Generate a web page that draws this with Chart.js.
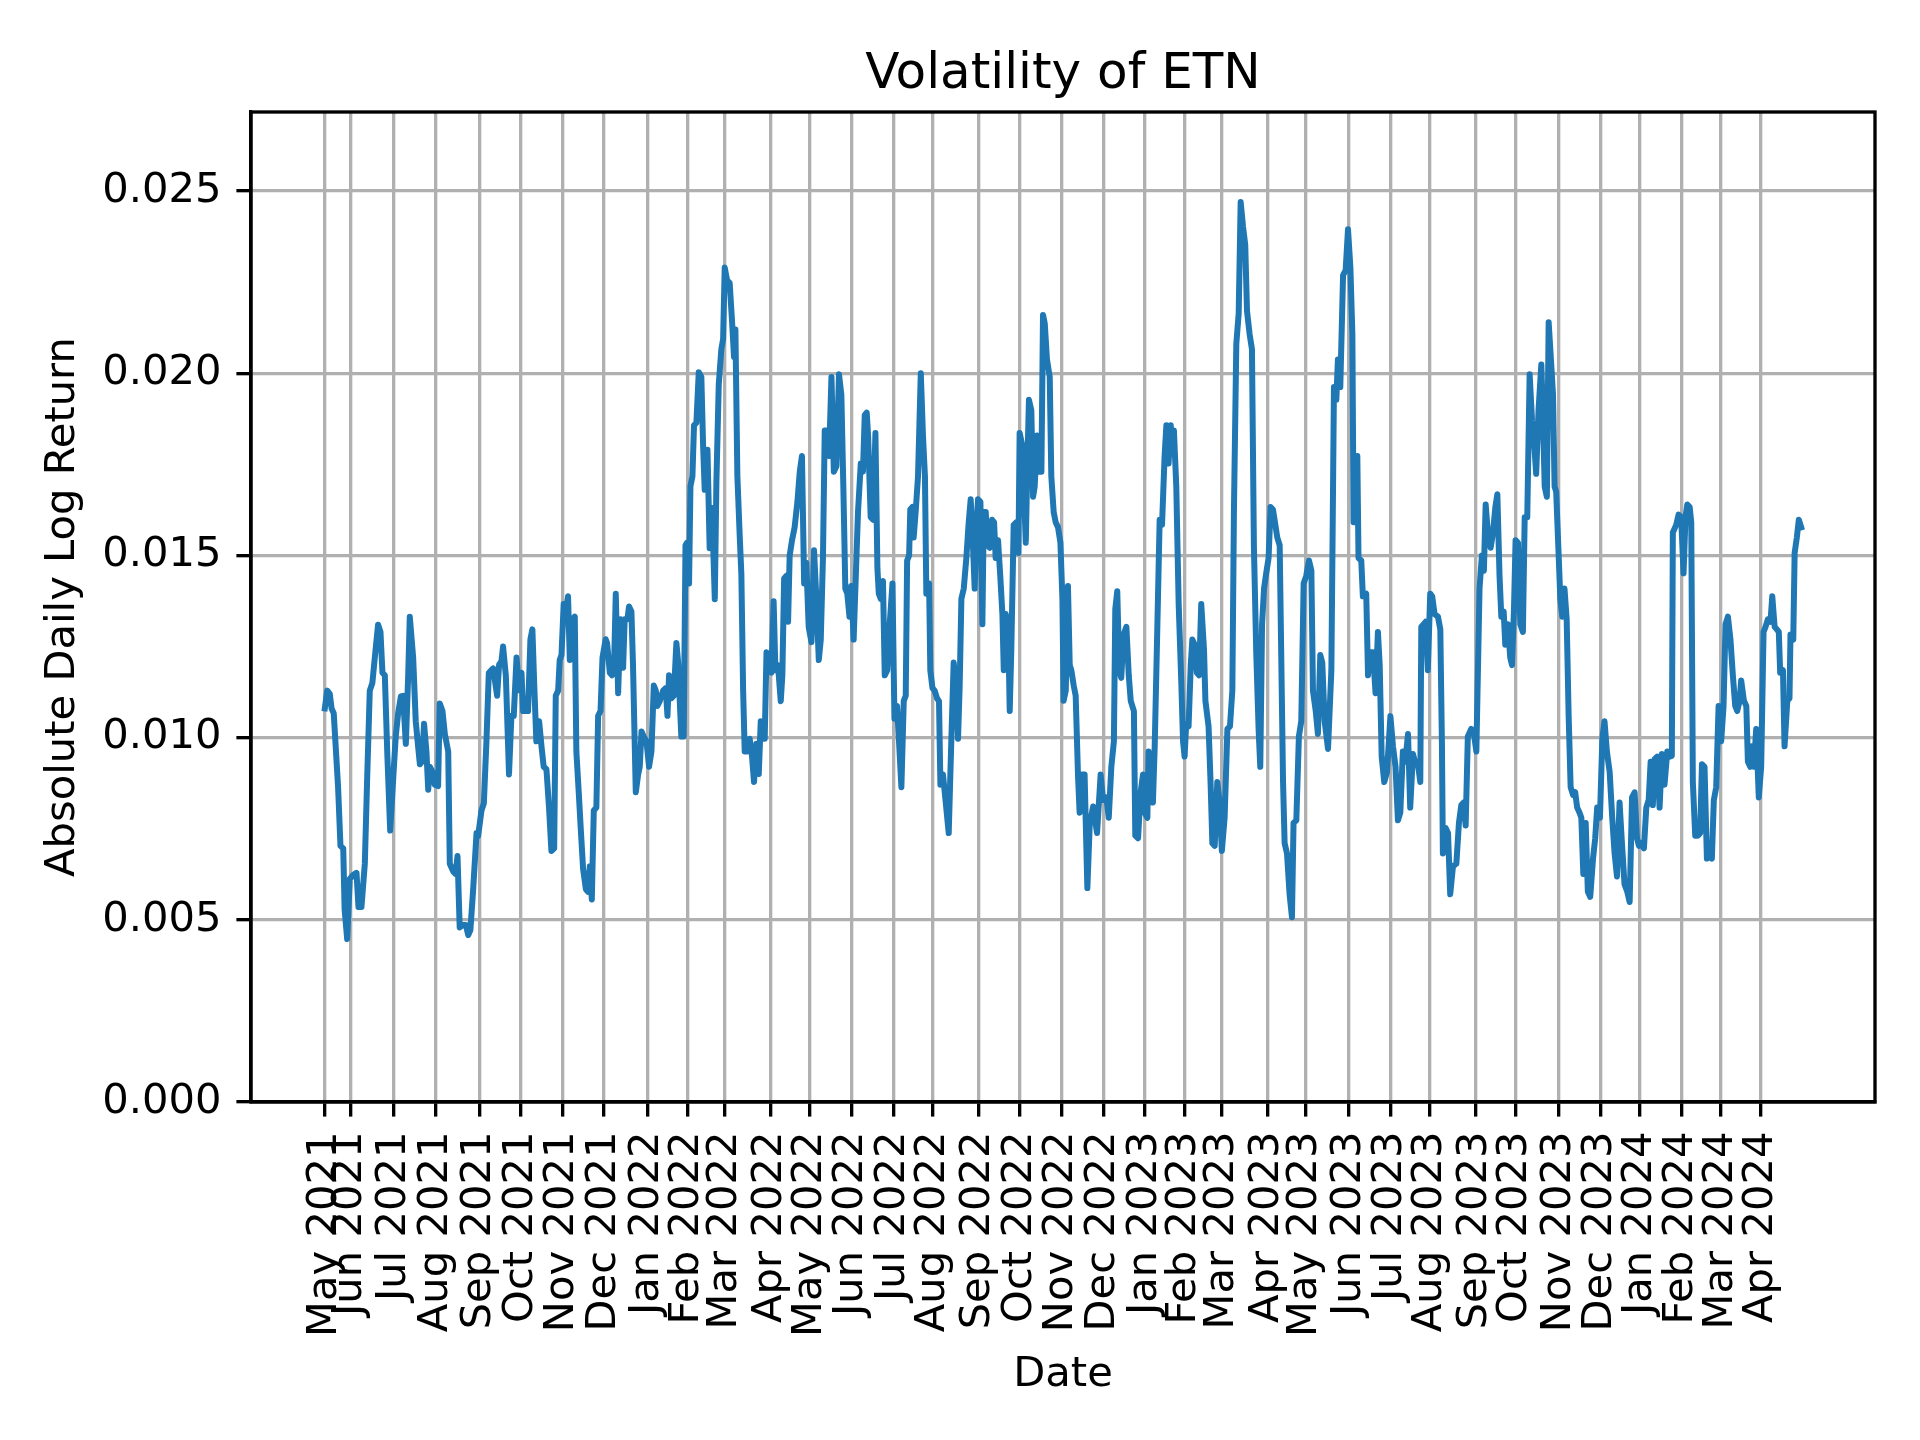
<!DOCTYPE html>
<html>
<head>
<meta charset="utf-8">
<script src="https://cdn.jsdelivr.net/npm/chart.js@4.4.1/dist/chart.umd.min.js"></script>
<style>
  html, body { margin: 0; padding: 0; background: #fff; }
  canvas { display: block; }
</style>
</head>
<body>
<canvas id="c" width="1920" height="1440"></canvas>
<script>
// Trading-day index of each reading (0 = first trading day in the data, mid-May 2021)
const dayIndex = [
0,1.2,2.5,3.4,4.5,6.7,7.9,9.3,10,11.3,12.6,14.3,16,17,18.5,20.2,21.4,22.7,24,25.6,26.9,28.1,29.1,30.3,31.6,33,34.5,35.8,37,38.4,39.5,40.9,42.1,42.9,44.6,45.9,47.1,48,49.1,50.1,51.3,52.2,53,54.4,55.5,57.2,58,59.4,60.6,62.3,63.1,64.8,66,67,68.1,69.8,71.2,72.4,73.5,74.9,76.6,77.4,79.1,80.3,81.6,82.8,84.1,85,85.8,87,88,89.2,90,
91.4,93,94.2,95.4,96.8,98.1,99.3,100.1,101.5,102.6,103.8,104.8,105.7,106.8,108.2,109.4,110.5,111.9,113.2,114.4,115.8,116.6,117.8,118.6,119.5,120.6,121.7,122.8,123.7,125,126.2,127,128.2,129.2,130.4,131.8,132.9,133.8,134.8,135.8,137.1,138,139.2,140.2,141.8,142.5,143.9,145,146.1,146.9,148.1,149.3,150.6,151.4,152.8,153.6,154.8,155.6,157,158.2,159,159.9,161,162.4,163.7,164.9,166.1,167.1,167.9,169.1,170.8,172.1,173,173.8,175,176.2,177.5,178.4,179.2,180,181.2,182.1,182.9,183.9,184.6,185.6,186.4,187.6,
188.8,190.1,191,191.8,193.2,194.3,195.5,196.9,197.7,198.9,200.2,201.1,201.9,203.1,204.4,205.6,206.6,207.3,208.3,209.5,210.3,211.2,212,213.4,214.5,215.7,216.7,217.9,219.1,220.1,221.3,222.1,223,224.1,225.5,226.6,227.5,228.8,230.2,231,231.9,233,233.9,234.7,235.9,237.2,238.6,239.8,240.9,242,243.1,244.3,245.7,247,248.2,249.4,250.4,251.5,252.4,253.6,254.6,255.8,257,258.3,259.6,260.8,261.8,262.8,263.8,264.9,265.8,267,268.4,269.2,270.6,271.7,272.6,273.6,274.3,275.6,276.8,278,279,279.7,280.7,281.8,282.7,284,285.2,286.6,
287.6,288.9,289.9,291.1,292.3,293.3,294,295,295.6,296.7,297.3,298.3,299.5,300.9,302,303,303.7,305.1,305.7,306.8,307.9,309.1,310.1,310.8,312.1,313.5,315,316.3,317.5,318.9,319.7,320.5,321.4,322.6,323.9,325.1,326.1,327.3,328.1,329,329.8,331,332,332.7,333.7,334.5,335.7,336.9,337.9,338.7,339.9,341.1,342.1,342.8,343.8,345,345.8,346.6,347.8,349.2,350.2,350.8,352.2,353,353.9,354.7,355.5,356.7,357.6,358.4,359.6,360.6,361.8,362.6,363.5,364.6,366,366.8,368,369,370.2,371.4,372.4,373,374.1,375.2,376.1,376.9,378.1,379.1,380.3,381.1,382.3,383.6,
385,386.2,387.9,389.9,391.7,392.9,394.6,395.8,397.1,398.4,399.1,400.1,401.1,402.1,403.3,404.7,405.9,406.9,408.5,409.2,410.6,411.9,413.1,413.9,415.3,415.9,417,418.1,419,420.3,421.5,422.7,424,424.9,426,427.1,427.7,428.7,429.9,431.1,432.4,433.3,434.1,434.9,436.1,437.2,438,439.2,440.3,441.4,442.5,443.9,444.6,446.2,447.2,448.1,449.3,450.6,451.8,452.9,454.3,455.7,457,458.2,459,460.2,461.4,462.4,463.6,464.7,465.6,466.9,468.1,469.1,470.3,471.5,472.3,473.2,474.2,475.3,476.5,477.5,478.7,479.9,480.9,482.1,
483.8,484.6,485.8,487.1,488.3,489.1,490.5,491.8,493,494.2,495.5,496.9,498.1,498.9,500.3,501.4,502.6,503.6,504.8,506.5,508.2,509.5,510.7,511.5,512.7,514.1,515.4,516.6,517.8,518.8,519.4,520.4,521.3,521.9,523.3,524.1,525.8,526.7,527.8,529.2,530.5,531.7,532.6,533.6,534.9,536.3,538,539.3,540.6,541.8,543,544.3,545.5,546.9,548,549.4,550.7,551.9,553.1,553.6,554.8,555.8,556.9,558.1,559.1,560.3,562,563.2,564,564.5,565.9,567.1,568.2,569.6,571.3,572.6,573.8,575,576,577.1,578.8,580,581.4,
583,584.2,585.2,586.1,587.2,588.6,589.8,591,592,593.1,594,595.2,596,597.3,598.5,599.4,600.4,601.2,602.4,603.6,604.9,605.8,607.1,608.3,609.5,610.5,611.6,612.8,614.2,615,615.9,617,617.9,619.2,620.1,620.9,621.7,622.6,623.8,624.8,625.9,627,628,629,630.2,631.3,632.3,633.5,634.4,635.4,636.6,637.7,638.9,640.3,641.4,642.4,643.8,645,646.1,647.3,648.7,650,651.2,652.4,653.7,654.9,656.2,657.6,658.8,660,661.3,662.5,663.5,664.7,666,667.2,668.4,669.4,670.5,671.4,672.7,673.9,675.1,676.4,677.8,679,680.1,
680.6,682.3,683.5,684.8,686,687,687.9,689.1,689.9,690.7,691.9,693.3,694.4,695.3,696.6,697.8,699.1,700.3,701.3,702.5,703.7,705,706.2,707.2,708.4,709.7,710.9,712.1,713.1,714.3,715.1,716.5,717.7,718.5,719.7,720.5,721.5,722.7,724,725.2,726.4,727.4,728.6,729.9,730.8,732,733.1,734.1,734.8,736.2,737,738.4,739.5,740,741.4,742.1,743.2,744.2,745.4
];

// Absolute daily log return (rolling)
const volatility = [
0.01080,0.01129,0.01120,0.01080,0.01067,0.00864,0.00703,0.00696,0.00528,0.00447,0.00612,0.00623,0.00629,0.00535,0.00535,0.00654,0.00892,0.01129,0.01150,0.01240,0.01310,0.01290,0.01178,0.01171,0.00948,0.00745,0.00885,0.01003,0.01066,0.01113,0.01115,0.00983,0.01171,0.01332,0.01220,0.01045,0.00976,0.00927,0.00934,0.01038,0.00962,0.00857,0.00920,0.00906,0.00871,0.00867,0.01094,0.01073,0.01010,0.00962,0.00654,0.00633,0.00626,0.00675,0.00479,0.00486,0.00486,0.00458,0.00472,0.00584,0.00738,0.00730,0.00800,0.00820,0.00990,0.01178,0.01185,0.01190,0.01160,0.01115,0.01200,0.01210,0.01250,
0.01170,0.00899,0.01060,0.01060,0.01220,0.01130,0.01178,0.01073,0.01073,0.01073,0.01270,0.01297,0.01150,0.00990,0.01045,0.00976,0.00920,0.00913,0.00808,0.00689,0.00696,0.01115,0.01129,0.01213,0.01227,0.01367,0.01346,0.01388,0.01213,0.01325,0.01332,0.00962,0.00850,0.00752,0.00640,0.00584,0.00577,0.00647,0.00556,0.00800,0.00808,0.01060,0.01073,0.01220,0.01270,0.01260,0.01178,0.01171,0.01213,0.01395,0.01122,0.01325,0.01192,0.01325,0.01325,0.01360,0.01346,0.01200,0.00850,0.00899,0.00920,0.01017,0.01003,0.00990,0.00920,0.00962,0.01143,0.01129,0.01087,0.01100,0.01129,0.01136,0.01060,0.01171,0.01108,0.01115,0.01260,0.01206,0.01100,0.01003,0.01003,0.01528,0.01535,0.01423,0.01690,0.01717,0.01857,0.01864,
0.02003,0.01990,0.01800,0.01680,0.01790,0.01520,0.01630,0.01380,0.01700,0.01970,0.02066,0.02094,0.02290,0.02255,0.02248,0.02143,0.02045,0.02120,0.01717,0.01550,0.01450,0.01130,0.00962,0.00962,0.00997,0.00948,0.00878,0.00983,0.00900,0.01045,0.00997,0.00997,0.01234,0.01199,0.01178,0.01374,0.01185,0.01199,0.01100,0.01171,0.01437,0.01444,0.01318,0.01500,0.01542,0.01577,0.01647,0.01730,0.01773,0.01423,0.01480,0.01304,0.01262,0.01514,0.01380,0.01213,0.01269,0.01493,0.01843,0.01843,0.01773,0.01990,0.01730,0.01745,0.01997,0.01940,0.01689,0.01409,0.01395,0.01332,0.01416,0.01269,0.01493,0.01619,0.01752,0.01730,0.01885,0.01892,0.01829,0.01605,0.01598,0.01836,0.01465,0.01395,0.01381,0.01430,0.01171,0.01185,0.01311,0.01423,
0.01052,0.01087,0.00990,0.00864,0.01101,0.01115,0.01486,0.01500,0.01626,0.01633,0.01549,0.01619,0.01717,0.02000,0.01829,0.01717,0.01395,0.01423,0.01185,0.01136,0.01129,0.01108,0.01100,0.00871,0.00899,0.00822,0.00738,0.00990,0.01206,0.01129,0.00997,0.01136,0.01381,0.01409,0.01493,0.01591,0.01654,0.01521,0.01409,0.01577,0.01654,0.01647,0.01311,0.01619,0.01619,0.01528,0.01521,0.01598,0.01591,0.01493,0.01542,0.01437,0.01339,0.01185,0.01339,0.01311,0.01073,0.01241,0.01584,0.01591,0.01507,0.01836,0.01801,0.01675,0.01535,0.01745,0.01927,0.01899,0.01661,0.01689,0.01829,0.01730,0.01730,0.02160,0.02136,0.02038,0.01990,0.01717,0.01619,0.01591,0.01577,0.01535,0.01381,0.01101,0.01129,0.01416,0.01199,0.01185,0.01143,0.01115,0.00892,0.00794,0.00899,0.00899,
0.00587,0.00762,0.00811,0.00738,0.00899,0.00829,0.00836,0.00780,0.00920,0.00990,0.01353,0.01402,0.01185,0.01164,0.01283,0.01304,0.01171,0.01101,0.01073,0.00731,0.00724,0.00850,0.00899,0.00794,0.00780,0.00962,0.00934,0.00822,0.00976,0.01297,0.01598,0.01584,0.01773,0.01857,0.01752,0.01857,0.01787,0.01843,0.01689,0.01367,0.01157,0.00990,0.00948,0.01038,0.01031,0.01199,0.01269,0.01255,0.01178,0.01171,0.01367,0.01241,0.01101,0.01031,0.00878,0.00710,0.00703,0.00878,0.00822,0.00689,0.00780,0.01024,0.01031,0.01129,0.01619,0.02080,0.02164,0.02470,0.02402,0.02353,0.02171,0.02108,0.02066,0.01521,0.01227,0.01017,0.00920,0.01311,0.01409,0.01451,0.01493,0.01633,0.01626,0.01584,0.01549,0.01528,
0.00878,0.00710,0.00682,0.00570,0.00507,0.00766,0.00773,0.01003,0.01045,0.01423,0.01444,0.01486,0.01458,0.01129,0.01073,0.01010,0.01227,0.01206,0.01045,0.00969,0.01185,0.01962,0.01927,0.02038,0.01962,0.02269,0.02283,0.02395,0.02290,0.02108,0.01591,0.01703,0.01773,0.01493,0.01486,0.01388,0.01395,0.01171,0.01234,0.01234,0.01122,0.01290,0.01199,0.00948,0.00878,0.00906,0.01059,0.00976,0.00920,0.00773,0.00794,0.00962,0.00934,0.01010,0.00808,0.00955,0.00927,0.00927,0.00878,0.01304,0.01311,0.01318,0.01185,0.01395,0.01388,0.01339,0.01332,0.01297,0.00990,0.00682,0.00752,0.00738,0.00570,0.00647,0.00654,0.00766,0.00815,0.00822,0.00759,0.01003,0.01024,0.01017,0.00962,
0.01409,0.01500,0.01458,0.01640,0.01563,0.01521,0.01563,0.01633,0.01668,0.01444,0.01332,0.01346,0.01255,0.01311,0.01220,0.01199,0.01353,0.01542,0.01535,0.01311,0.01290,0.01605,0.01605,0.01997,0.01871,0.01815,0.01724,0.01899,0.02024,0.01885,0.01689,0.01661,0.02140,0.02024,0.01941,0.01689,0.01675,0.01549,0.01381,0.01332,0.01409,0.01325,0.01059,0.00864,0.00843,0.00850,0.00808,0.00794,0.00780,0.00626,0.00766,0.00577,0.00563,0.00668,0.00724,0.00808,0.00780,0.00997,0.01045,0.00962,0.00906,0.00780,0.00682,0.00619,0.00822,0.00710,0.00598,0.00577,0.00549,0.00836,0.00850,0.00724,0.00703,0.00710,0.00696,0.00808,0.00829,0.00934,0.00815,0.00941,0.00948,0.00808,0.00955,0.00871,0.00962,0.00948,0.00950,
0.01563,0.01584,0.01612,0.01605,0.01451,0.01605,0.01640,0.01633,0.01591,0.00878,0.00731,0.00731,0.00738,0.00927,0.00920,0.00668,0.00675,0.00668,0.00829,0.00864,0.01087,0.00990,0.01087,0.01311,0.01332,0.01269,0.01171,0.01087,0.01073,0.01101,0.01157,0.01101,0.01087,0.00934,0.00920,0.00976,0.00920,0.01024,0.00836,0.00920,0.01290,0.01304,0.01325,0.01318,0.01388,0.01304,0.01297,0.01290,0.01178,0.01185,0.00976,0.01101,0.01108,0.01283,0.01269,0.01507,0.01549,0.01598,0.01577
];

// Month tick positions (trading-day index of the first trading day of each month)
const monthTickIndex = [0,13,35,56,78,99,120,141,163,183,202,225,245,266,287,307,330,351,372,393,414,434,453,476,495,517,538,558,581,601,623,644,664,685,705,725];
const monthTickLabels = [
'May 2021','Jun 2021','Jul 2021','Aug 2021','Sep 2021','Oct 2021','Nov 2021','Dec 2021',
'Jan 2022','Feb 2022','Mar 2022','Apr 2022','May 2022','Jun 2022','Jul 2022','Aug 2022','Sep 2022','Oct 2022','Nov 2022','Dec 2022',
'Jan 2023','Feb 2023','Mar 2023','Apr 2023','May 2023','Jun 2023','Jul 2023','Aug 2023','Sep 2023','Oct 2023','Nov 2023','Dec 2023',
'Jan 2024','Feb 2024','Mar 2024','Apr 2024'
];
const yTickValues = [0, 0.005, 0.010, 0.015, 0.020, 0.025];

const FONT = 'DejaVu Sans';
const points = dayIndex.map((d, i) => ({ x: d, y: volatility[i] }));
const n = Math.max(...dayIndex);
const xMargin = n * 0.05;
const yMax = Math.max(...volatility) * 1.1;

const frame = {
  id: 'frame',
  afterDraw(chart) {
    const { ctx, chartArea: a } = chart;
    ctx.save();
    ctx.strokeStyle = '#000';
    ctx.lineWidth = 3.33;
    ctx.strokeRect(a.left, a.top, a.right - a.left, a.bottom - a.top);
    ctx.restore();
  }
};

new Chart(document.getElementById('c'), {
  type: 'line',
  data: {
    datasets: [{
      data: points,
      borderColor: '#1f77b4',
      borderWidth: 6,
      pointRadius: 0,
      tension: 0,
      fill: false,
      borderJoinStyle: 'round',
      borderCapStyle: 'square'
    }]
  },
  options: {
    responsive: false,
    devicePixelRatio: 1,
    animation: false,
    layout: { padding: { left: 0, right: 45, top: 0, bottom: 0 } },
    plugins: {
      legend: { display: false },
      tooltip: { enabled: false },
      title: {
        display: true,
        text: 'Volatility of ETN',
        color: '#000',
        fullSize: false,
        font: { family: FONT, size: 50, weight: 'normal' },
        padding: { top: 45, bottom: 7 }
      }
    },
    scales: {
      x: {
        type: 'linear',
        min: -xMargin,
        max: n + xMargin,
        afterBuildTicks(scale) {
          scale.ticks = monthTickIndex.map(v => ({ value: v }));
        },
        afterFit(scale) { scale.height = 338; },
        ticks: {
          autoSkip: false,
          minRotation: 90,
          maxRotation: 90,
          padding: 15,
          color: '#000',
          font: { family: FONT, size: 41.67 },
          callback: (value, index) => monthTickLabels[index]
        },
        grid: {
          color: '#b0b0b0',
          lineWidth: 3.33,
          tickLength: 14.6,
          tickColor: '#000',
          tickWidth: 3.33
        },
        border: { display: true, color: '#000', width: 3.33 },
        title: {
          display: true,
          text: 'Date',
          color: '#000',
          font: { family: FONT, size: 41.67 },
          padding: { top: 0, bottom: 40 }
        }
      },
      y: {
        type: 'linear',
        min: 0,
        max: yMax,
        afterBuildTicks(scale) {
          scale.ticks = yTickValues.map(v => ({ value: v }));
        },
        afterFit(scale) { scale.width = 251; },
        ticks: {
          padding: 15,
          color: '#000',
          font: { family: FONT, size: 41.67 },
          callback: v => Number(v).toFixed(3)
        },
        grid: {
          color: '#b0b0b0',
          lineWidth: 3.33,
          tickLength: 14.6,
          tickColor: '#000',
          tickWidth: 3.33
        },
        border: { display: true, color: '#000', width: 3.33 },
        title: {
          display: true,
          text: 'Absolute Daily Log Return',
          color: '#000',
          font: { family: FONT, size: 41.67 },
          padding: { top: 38, bottom: 0 }
        }
      }
    }
  },
  plugins: [frame]
});
</script>
</body>
</html>
